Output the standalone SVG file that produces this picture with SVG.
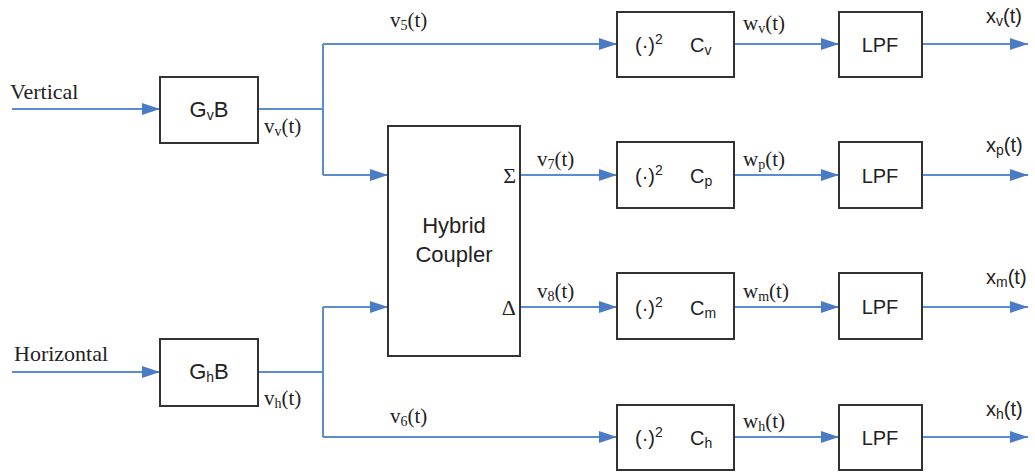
<svg xmlns="http://www.w3.org/2000/svg" width="1035" height="474" viewBox="0 0 1035 474">
<defs>
<marker id="arr" markerWidth="18" markerHeight="12" refX="18" refY="6" orient="auto" markerUnits="userSpaceOnUse">
<path d="M0,0 L18,6 L0,12 z" fill="#4a7cc6"/>
</marker>
</defs>
<style>
.box{fill:#fff;stroke:#333;stroke-width:2}
.ln{fill:none;stroke:#5b8bd0;stroke-width:2}
.ar{marker-end:url(#arr)}
.sans{font-family:"Liberation Sans",Arial,sans-serif;fill:#222}
.serif{font-family:"Liberation Serif","Times New Roman",serif;fill:#222}
.bl{font-size:20px}
.big{font-size:22px}
.sig{font-size:21px}
.out{font-size:20px}
.sub{font-size:14px}
</style>
<rect width="1035" height="474" fill="#fff"/>
<g id="connectors">
<line class="ln ar" x1="12" y1="109" x2="160" y2="109"/>
<line class="ln ar" x1="12" y1="372" x2="160" y2="372"/>
<polyline class="ln" points="258,109 323,109"/>
<polyline class="ln ar" points="323,44 323,44 617,44"/>
<polyline class="ln" points="323,44 323,175"/>
<polyline class="ln ar" points="323,175 388,175"/>
<polyline class="ln" points="258,372 323,372"/>
<polyline class="ln" points="323,307 323,437"/>
<polyline class="ln ar" points="323,307 388,307"/>
<polyline class="ln ar" points="323,437 617,437"/>
<line class="ln ar" x1="520" y1="175" x2="617" y2="175"/>
<line class="ln ar" x1="520" y1="307" x2="617" y2="307"/>
<line class="ln ar" x1="734" y1="44" x2="839" y2="44"/>
<line class="ln ar" x1="734" y1="175" x2="839" y2="175"/>
<line class="ln ar" x1="734" y1="307" x2="839" y2="307"/>
<line class="ln ar" x1="734" y1="437" x2="839" y2="437"/>
<line class="ln ar" x1="922" y1="44" x2="1028" y2="44"/>
<line class="ln ar" x1="922" y1="175" x2="1028" y2="175"/>
<line class="ln ar" x1="922" y1="307" x2="1028" y2="307"/>
<line class="ln ar" x1="922" y1="437" x2="1028" y2="437"/>
</g>
<g id="labels">
<text class="serif big" x="10" y="99">Vertical</text>
<text class="serif big" x="14" y="361">Horizontal</text>
<text class="serif sig" x="264" y="133">v<tspan class="sub" dy="3">v</tspan><tspan dy="-3">(t)</tspan></text>
<text class="serif sig" x="264" y="405">v<tspan class="sub" dy="3">h</tspan><tspan dy="-3">(t)</tspan></text>
<text class="serif sig" x="390" y="27">v<tspan class="sub" dy="3">5</tspan><tspan dy="-3">(t)</tspan></text>
<text class="serif sig" x="390" y="423">v<tspan class="sub" dy="3">6</tspan><tspan dy="-3">(t)</tspan></text>
<text class="serif sig" x="537" y="166">v<tspan class="sub" dy="3">7</tspan><tspan dy="-3">(t)</tspan></text>
<text class="serif sig" x="537" y="298">v<tspan class="sub" dy="3">8</tspan><tspan dy="-3">(t)</tspan></text>
<text class="serif sig" x="743" y="30">w<tspan class="sub" dy="3">v</tspan><tspan dy="-3">(t)</tspan></text>
<text class="serif sig" x="743" y="166">w<tspan class="sub" dy="3">p</tspan><tspan dy="-3">(t)</tspan></text>
<text class="serif sig" x="743" y="298">w<tspan class="sub" dy="3">m</tspan><tspan dy="-3">(t)</tspan></text>
<text class="serif sig" x="743" y="428">w<tspan class="sub" dy="3">h</tspan><tspan dy="-3">(t)</tspan></text>
<text class="sans out" x="986" y="23">x<tspan class="sub" dy="3">v</tspan><tspan dy="-3">(t)</tspan></text>
<text class="sans out" x="986" y="152">x<tspan class="sub" dy="3">p</tspan><tspan dy="-3">(t)</tspan></text>
<text class="sans out" x="986" y="284">x<tspan class="sub" dy="3">m</tspan><tspan dy="-3">(t)</tspan></text>
<text class="sans out" x="986" y="416">x<tspan class="sub" dy="3">h</tspan><tspan dy="-3">(t)</tspan></text>
</g>
<g id="gvb">
<rect class="box" x="160" y="77" width="98" height="66"/>
<text class="sans big" x="209" y="117" text-anchor="middle">G<tspan class="sub" dy="3">v</tspan><tspan dy="-3">B</tspan></text>
</g>
<g id="ghb">
<rect class="box" x="160" y="339" width="98" height="67"/>
<text class="sans big" x="209" y="379" text-anchor="middle">G<tspan class="sub" dy="3">h</tspan><tspan dy="-3">B</tspan></text>
</g>
<g id="coupler">
<rect class="box" x="388" y="126" width="132" height="230"/>
<text class="sans big" x="454" y="233" text-anchor="middle">Hybrid</text>
<text class="sans big" x="454" y="262" text-anchor="middle">Coupler</text>
<text class="serif big" x="516" y="183" text-anchor="end">Σ</text>
<text class="serif big" x="516" y="315" text-anchor="end">Δ</text>
</g>
<g id="cv">
<rect class="box" x="617" y="12" width="117" height="65"/>
<text class="sans bl" x="635" y="52">(·)<tspan class="sub" dy="-8">2</tspan></text>
<text class="sans bl" x="690" y="52">C<tspan class="sub" dy="3">v</tspan></text>
</g>
<g id="cp">
<rect class="box" x="617" y="142" width="117" height="66"/>
<text class="sans bl" x="635" y="183">(·)<tspan class="sub" dy="-8">2</tspan></text>
<text class="sans bl" x="690" y="183">C<tspan class="sub" dy="3">p</tspan></text>
</g>
<g id="cm">
<rect class="box" x="617" y="273" width="117" height="66"/>
<text class="sans bl" x="635" y="315">(·)<tspan class="sub" dy="-8">2</tspan></text>
<text class="sans bl" x="690" y="315">C<tspan class="sub" dy="3">m</tspan></text>
</g>
<g id="ch">
<rect class="box" x="617" y="405" width="117" height="65"/>
<text class="sans bl" x="635" y="445">(·)<tspan class="sub" dy="-8">2</tspan></text>
<text class="sans bl" x="690" y="445">C<tspan class="sub" dy="3">h</tspan></text>
</g>
<g id="lpf1"><rect class="box" x="839" y="12" width="83" height="65"/><text class="sans bl" x="880" y="52" text-anchor="middle">LPF</text></g>
<g id="lpf2"><rect class="box" x="839" y="142" width="83" height="66"/><text class="sans bl" x="880" y="183" text-anchor="middle">LPF</text></g>
<g id="lpf3"><rect class="box" x="839" y="273" width="83" height="66"/><text class="sans bl" x="880" y="314" text-anchor="middle">LPF</text></g>
<g id="lpf4"><rect class="box" x="839" y="405" width="83" height="65"/><text class="sans bl" x="880" y="445" text-anchor="middle">LPF</text></g>
</svg>
